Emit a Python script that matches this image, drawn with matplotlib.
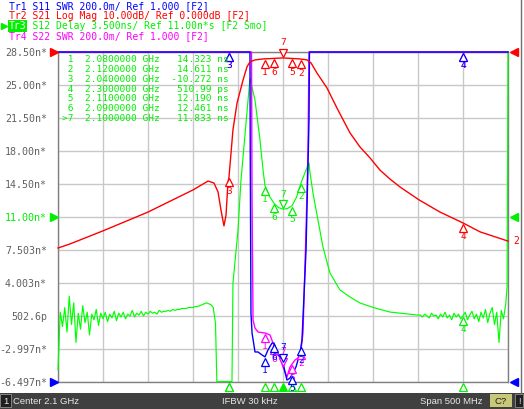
import numpy as np
import matplotlib
matplotlib.use("Agg")
import matplotlib.pyplot as plt
from matplotlib.transforms import offset_copy
from matplotlib.patches import Rectangle
from matplotlib.lines import Line2D

W, H = 524, 409
MONO = "DejaVu Sans Mono"

BLUE = "#0000ff"
RED = "#ff0000"
GREEN = "#00f000"
MAGENTA = "#ff00ff"

# sweep: center 2.1 GHz, span 500 MHz
f_start, f_stop = 1.85, 2.35

# Tr2  S21 log mag (dB), 10 dB/div, ref 0 dB at top
s21_f = [1.850, 1.863, 1.900, 1.950, 2.000, 2.0167, 2.0233, 2.0278, 2.0311, 2.0344,
         2.0367, 2.0389, 2.040, 2.0444, 2.0489, 2.0556, 2.060, 2.0633, 2.0689, 2.0778,
         2.100, 2.1189, 2.1267, 2.1311, 2.1378, 2.1489, 2.160, 2.1744, 2.1856, 2.1967,
         2.2078, 2.2189, 2.230, 2.2511, 2.2744, 2.300, 2.3189, 2.350]
s21_db = [-59.4, -58.2, -54.2, -48.5, -41.8, -39.1, -39.7, -42.4, -47.9, -52.7,
          -49.4, -39.4, -37.9, -23.6, -15.5, -8.5, -4.5, -3.0, -2.4, -2.1,
          -1.8, -2.1, -2.4, -3.3, -6.4, -10.9, -17.0, -24.5, -28.8, -32.1,
          -35.8, -38.5, -40.9, -44.8, -48.5, -51.8, -54.5, -57.3]

# Tr3  S12 group delay (ns), 3.5 ns/div, ref 11 ns
s12_low_ns = [0.9, -0.6, 1.4, -1.2, 2.6, -0.4, 1.9, -2.3, 0.8, -0.9,
              1.6, -0.2, 0.9, -1.5, 0.7, 0.1, 1.2, -0.5, 0.8, 0.2,
              0.9, -0.1, 0.7, 0.3, 1.0, 0.0, 0.8, 0.4, 0.9, 0.2,
              0.7, 0.5, 1.1, 0.4, 0.8, 0.6, 1.0, 0.5, 0.9, 0.7,
              1.0, 0.8, 0.9, 0.7, 1.1, 0.9, 1.0, 1.0, 1.1, 1.0,
              1.2, 1.1, 1.2, 1.2, 1.3, 1.3, 1.3, 1.4, 1.4, 1.4,
              1.5, 1.5, 1.6, 1.7, 1.8, 1.9, 1.8, 1.7, 1.4]
s12_mid_f = [2.025, 2.0265, 2.0433, 2.0444, 2.050, 2.0533, 2.0589, 2.0633, 2.0689, 2.0744,
             2.0778, 2.080, 2.085, 2.090, 2.095, 2.100, 2.105, 2.110, 2.115, 2.120,
             2.1244, 2.1289, 2.130, 2.1333, 2.1389, 2.1444, 2.1522, 2.1633, 2.1744, 2.1856,
             2.2022, 2.2189, 2.235, 2.250]
s12_mid_ns = [-0.3, -6.45, -6.45, 4.0, 9.6, 14.9, 21.0, 25.7, 23.4, 19.2,
              16.0, 14.323, 13.2, 12.461, 12.0, 11.833, 11.9, 12.19, 13.1, 14.611,
              15.7, 16.75, 15.7, 13.55, 10.68, 7.82, 5.06, 3.26, 2.52, 1.88,
              1.35, 0.92, 0.75, 0.6]
s12_high_ns = [0.6, 0.4, 0.7, 0.5, 0.3, 0.8, 0.5, 0.6, 0.2, 0.7,
               0.4, 0.9, 0.3, 0.6, 0.1, 0.8, 0.4, 0.7, 0.2, 0.51,
               0.9, 0.1, 0.6, 1.0, 0.2, 0.7, -0.1, 0.9, 0.3, 1.2,
               -0.2, 0.8, 1.4, -0.4, 0.9, -2.3, 1.1, 0.2, 1.8]
s12_end_f = [2.349, 2.350]
s12_end_ns = [3.6, 28.5]

# Tr1  S11 SWR, 0.2/div, ref 1.0 at bottom (top edge = clipped)
s11_f = [1.85, 2.0633, 2.0636, 2.0644, 2.0656, 2.0689, 2.0722, 2.0767, 2.080, 2.0833,
         2.0878, 2.090, 2.0944, 2.0989, 2.1022, 2.1044, 2.1078, 2.1111, 2.1144, 2.1189,
         2.1211, 2.1256, 2.1289, 2.1294, 2.35]
s11_swr = [3.0, 3.0, 2.4, 1.418, 1.297, 1.182, 1.182, 1.164, 1.152, 1.194,
           1.236, 1.236, 1.164, 1.145, 1.061, 1.012, 1.024, 1.055, 1.091, 1.176,
           1.255, 1.80, 2.588, 3.0, 3.0]

# Tr4  S22 SWR
s22_f = [1.85, 2.065, 2.0656, 2.0667, 2.0689, 2.0722, 2.080, 2.0856, 2.0889, 2.0922,
         2.0967, 2.100, 2.1044, 2.1078, 2.1133, 2.1167, 2.120, 2.1222, 2.1233, 2.1256,
         2.1278, 2.1289, 2.35]
s22_swr = [3.0, 3.0, 2.103, 1.376, 1.327, 1.303, 1.297, 1.285, 1.236, 1.194,
           1.145, 1.091, 1.030, 1.091, 1.133, 1.145, 1.194, 1.297, 1.497, 1.921,
           2.406, 3.0, 3.0]

# markers
mk_num = [1, 2, 3, 4, 5, 6, 7]
mk_freq = [2.08, 2.12, 2.04, 2.30, 2.11, 2.09, 2.10]
mk_freq_txt = ["2.0800000", "2.1200000", "2.0400000", "2.3000000",
               "2.1100000", "2.0900000", "2.1000000"]
mk_val_txt = ["14.323", "14.611", "-10.272", "510.99", "12.190", "12.461", "11.833"]
mk_unit = ["ns", "ns", "ns", "ps", "ns", "ns", "ns"]
active_mk = 7

ytick_txt = ["28.50n*", "25.00n*", "21.50n*", "18.00n*", "14.50n*", "11.00n*",
             "7.503n*", "4.003n*", "502.6p", "-2.997n*", "-6.497n*"]

header = [("Tr1 S11 SWR 200.0m/ Ref 1.000 [F2]", BLUE),
          ("Tr2 S21 Log Mag 10.00dB/ Ref 0.000dB [F2]", RED),
          ("Tr3 S12 Delay 3.500ns/ Ref 11.00n*s [F2 Smo]", GREEN),
          ("Tr4 S22 SWR 200.0m/ Ref 1.000 [F2]", MAGENTA)]


def fx(x):
    return x / W


def fy(y):
    return 1 - y / H


fig = plt.figure(figsize=(W / 100, H / 100), dpi=100)
fig.patch.set_facecolor("white")

pos = [fx(58), fy(382), 450 / W, 330 / H]
ax = fig.add_axes(pos)
d_lo, d_hi = -6.497, 28.503
ax.set_xlim(f_start, f_stop)
ax.set_ylim(d_lo, d_hi)
ax.set_xticks(np.linspace(f_start, f_stop, 11))
ax.set_yticks(np.linspace(d_lo, d_hi, 11))
ax.grid(color="#c8c8c8", lw=1)
ax.set_xticklabels([])
ax.set_yticklabels(ytick_txt[::-1], family=MONO, fontsize=7.2, color="#606060")
ax.get_yticklabels()[5].set_color(GREEN)
ax.tick_params(length=0, pad=8)
for s in ax.spines.values():
    s.set_color("#808080")
    s.set_linewidth(1)

ax_swr = fig.add_axes(pos)
ax_swr.set_xlim(f_start, f_stop)
ax_swr.set_ylim(1.0, 3.0)
ax_swr.set_axis_off()

ax_db = fig.add_axes(pos)
ax_db.set_xlim(f_start, f_stop)
ax_db.set_ylim(-100, 0)
ax_db.set_axis_off()

# traces
s12_f = np.concatenate([[1.850], np.linspace(1.8525, 2.0225, len(s12_low_ns)), s12_mid_f,
                        np.linspace(2.2525, 2.3475, len(s12_high_ns)), s12_end_f])
s12_ns = np.concatenate([[-5.2], s12_low_ns, s12_mid_ns, s12_high_ns, s12_end_ns])
ax.plot(s12_f, s12_ns, color="#00ff00", lw=0.85, clip_on=False, zorder=3)
ax_swr.plot(s22_f, s22_swr, color=MAGENTA, lw=1.0, clip_on=False)
ax_swr.plot(s11_f, s11_swr, color=BLUE, lw=1.0, clip_on=False)
ax_db.plot(s21_f, s21_db, color=RED, lw=1.0, clip_on=False)


def marker(a, f, v, n, c, lo, hi, label=True):
    v = min(max(v, lo), hi)
    if n == active_mk:
        t1 = offset_copy(a.transData, fig=fig, x=0, y=5, units="dots")
        t2 = offset_copy(a.transData, fig=fig, x=0, y=15, units="dots")
        a.plot([f], [v], marker="v", ms=6, mfc="white", mec=c, mew=0.9,
               transform=t1, clip_on=False, zorder=8)
    else:
        t1 = offset_copy(a.transData, fig=fig, x=0, y=-5, units="dots")
        t2 = offset_copy(a.transData, fig=fig, x=0, y=-14, units="dots")
        a.plot([f], [v], marker="^", ms=6, mfc="white", mec=c, mew=0.9,
               transform=t1, clip_on=False, zorder=8)
    if label:
        a.text(f, v, str(n), transform=t2, color=c, family=MONO, fontsize=6.8,
               ha="center", va="center", zorder=8)


for n, f, v in zip(mk_num, mk_freq, mk_val_txt):
    val = float(v) / (1000 if mk_unit[n - 1] == "ps" else 1)
    marker(ax, f, val, n, GREEN, d_lo, d_hi, label=val >= d_lo)
for n, f in zip(mk_num, mk_freq):
    marker(ax_swr, f, np.interp(f, s22_f, s22_swr), n, MAGENTA, 1.0, 3.0)
for n, f in zip(mk_num, mk_freq):
    marker(ax_swr, f, np.interp(f, s11_f, s11_swr), n, BLUE, 1.0, 3.0)
for n, f in zip(mk_num, mk_freq):
    marker(ax_db, f, np.interp(f, s21_f, s21_db), n, RED, -100, 0)

# stimulus indicators under the grid (active trace)
tb = offset_copy(ax.transData, fig=fig, x=0, y=-5, units="dots")
for n, f in zip(mk_num, mk_freq):
    ax.plot([f], [d_lo], marker="^", ms=6, mfc=GREEN if n == active_mk else "white",
            mec=GREEN, mew=0.9, transform=tb, clip_on=False, zorder=8)

# marker readout table
for i, n in enumerate(mk_num):
    tag = (">" if n == active_mk else " ") + str(n)
    row = f"{tag}  {mk_freq_txt[i]} GHz {mk_val_txt[i]:>8} {mk_unit[i]}"
    fig.text(fx(62), fy(60 + 9.7 * i), row, family=MONO, fontsize=6.8,
             color=GREEN, va="center", ha="left")

# header lines
for i, (txt, c) in enumerate(header):
    fig.text(fx(9), fy(6 + 10 * i), txt, family=MONO, fontsize=7.0, color=c,
             va="center", ha="left")
fig.add_artist(Rectangle((fx(8), fy(32)), 19 / W, 12 / H, transform=fig.transFigure,
                         fc=GREEN, ec="none"))
fig.text(fx(9), fy(26), "Tr3", family=MONO, fontsize=7.0, color="white",
         va="center", ha="left")
fig.add_artist(Line2D([fx(4)], [fy(26)], marker=">", ms=5, color=GREEN,
                      transform=fig.transFigure))

# reference position arrows at the edges
for y, c in [(52, RED), (217, GREEN), (382, BLUE)]:
    fig.add_artist(Line2D([fx(54)], [fy(y)], marker=">", ms=6, color=c,
                          transform=fig.transFigure))
for y, c in [(52, RED), (217, GREEN), (382, BLUE)]:
    fig.add_artist(Line2D([fx(514)], [fy(y)], marker="<", ms=6, color=c,
                          transform=fig.transFigure))
fig.text(fx(513), fy(241), "2", family=MONO, fontsize=7, color=RED, va="center")

# right frame line
fig.add_artist(Line2D([fx(520.5), fx(520.5)], [fy(393), 1], color="#707070", lw=1,
                      transform=fig.transFigure))

# status bar
fig.add_artist(Rectangle((0, 0), 1, 16 / H, transform=fig.transFigure,
                         fc="#404040", ec="none"))
fig.add_artist(Rectangle((fx(0), fy(407)), 11 / W, 13 / H, transform=fig.transFigure,
                         fc="#202020", ec="#909090", lw=0.6))
fig.text(fx(5.5), fy(401), "1", family="Liberation Sans", fontsize=6.8,
         color="#e8e8e8", ha="center", va="center")
fig.text(fx(13), fy(401), "Center 2.1 GHz", family="Liberation Sans", fontsize=6.8,
         color="#e8e8e8", va="center")
fig.text(fx(250), fy(401), "IFBW 30 kHz", family="Liberation Sans", fontsize=6.8,
         color="#e8e8e8", va="center", ha="center")
fig.text(fx(483), fy(401), "Span 500 MHz", family="Liberation Sans", fontsize=6.8,
         color="#e8e8e8", va="center", ha="right")
fig.add_artist(Rectangle((fx(490), fy(407)), 22 / W, 13 / H, transform=fig.transFigure,
                         fc="#c8c878", ec="none"))
fig.text(fx(501), fy(401), "C?", family="Liberation Sans", fontsize=6.8,
         color="#202020", va="center", ha="center")
fig.add_artist(Rectangle((fx(515), fy(407)), 8 / W, 13 / H, transform=fig.transFigure,
                         fc="#202020", ec="#909090", lw=0.6))
fig.text(fx(519), fy(401), "!", family="Liberation Sans", fontsize=6.8,
         color="#e8e8e8", va="center", ha="center")

fig.savefig("out.png", dpi=100)
